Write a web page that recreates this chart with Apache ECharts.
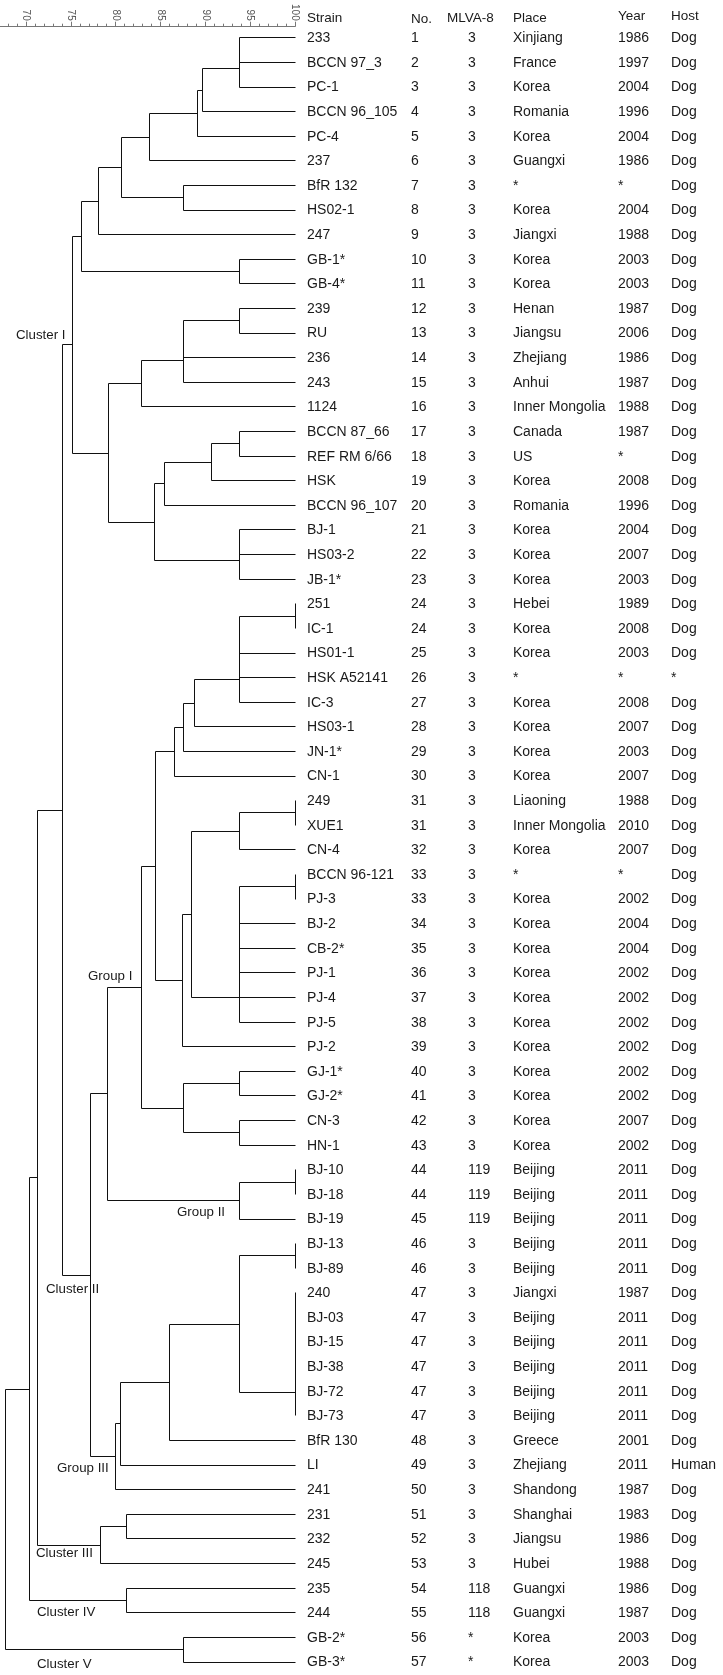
<!DOCTYPE html>
<html><head><meta charset="utf-8">
<script src="https://cdn.jsdelivr.net/npm/echarts@6/dist/echarts.min.js"></script>
<style>html,body{margin:0;padding:0;background:#fff}#c{width:723px;height:1675px}</style>
</head><body><div id="c"></div>
<script>
const strains = ['233','BCCN 97_3','PC-1','BCCN 96_105','PC-4','237','BfR 132','HS02-1','247','GB-1*','GB-4*',
  '239','RU','236','243','1124','BCCN 87_66','REF RM 6/66','HSK','BCCN 96_107','BJ-1','HS03-2','JB-1*',
  '251','IC-1','HS01-1','HSK A52141','IC-3','HS03-1','JN-1*','CN-1','249','XUE1','CN-4','BCCN 96-121','PJ-3',
  'BJ-2','CB-2*','PJ-1','PJ-4','PJ-5','PJ-2','GJ-1*','GJ-2*','CN-3','HN-1','BJ-10','BJ-18','BJ-19',
  'BJ-13','BJ-89','240','BJ-03','BJ-15','BJ-38','BJ-72','BJ-73','BfR 130','LI','241',
  '231','232','245','235','244','GB-2*','GB-3*'];
const numbers = [1,2,3,4,5,6,7,8,9,10,11,12,13,14,15,16,17,18,19,20,21,22,23,
  24,24,25,26,27,28,29,30,31,31,32,33,33,34,35,36,37,38,39,40,41,42,43,44,44,45,
  46,46,47,47,47,47,47,47,48,49,50,51,52,53,54,55,56,57];
const mlva = ['3','3','3','3','3','3','3','3','3','3','3','3','3','3','3','3','3','3','3','3','3','3','3',
  '3','3','3','3','3','3','3','3','3','3','3','3','3','3','3','3','3','3','3','3','3','3','3',
  '119','119','119','3','3','3','3','3','3','3','3','3','3','3','3','3','3','118','118','*','*'];
const places = ['Xinjiang','France','Korea','Romania','Korea','Guangxi','*','Korea','Jiangxi','Korea','Korea',
  'Henan','Jiangsu','Zhejiang','Anhui','Inner Mongolia','Canada','US','Korea','Romania','Korea','Korea','Korea',
  'Hebei','Korea','Korea','*','Korea','Korea','Korea','Korea','Liaoning','Inner Mongolia','Korea','*','Korea',
  'Korea','Korea','Korea','Korea','Korea','Korea','Korea','Korea','Korea','Korea','Beijing','Beijing','Beijing',
  'Beijing','Beijing','Jiangxi','Beijing','Beijing','Beijing','Beijing','Beijing','Greece','Zhejiang','Shandong',
  'Shanghai','Jiangsu','Hubei','Guangxi','Guangxi','Korea','Korea'];
const years = ['1986','1997','2004','1996','2004','1986','*','2004','1988','2003','2003',
  '1987','2006','1986','1987','1988','1987','*','2008','1996','2004','2007','2003',
  '1989','2008','2003','*','2008','2007','2003','2007','1988','2010','2007','*','2002',
  '2004','2004','2002','2002','2002','2002','2002','2002','2007','2002','2011','2011','2011',
  '2011','2011','1987','2011','2011','2011','2011','2011','2001','2011','1987',
  '1983','1986','1988','1986','1987','2003','2003'];
const hosts = ['Dog','Dog','Dog','Dog','Dog','Dog','Dog','Dog','Dog','Dog','Dog','Dog','Dog','Dog','Dog','Dog',
  'Dog','Dog','Dog','Dog','Dog','Dog','Dog','Dog','Dog','Dog','*','Dog','Dog','Dog','Dog','Dog','Dog','Dog',
  'Dog','Dog','Dog','Dog','Dog','Dog','Dog','Dog','Dog','Dog','Dog','Dog','Dog','Dog','Dog','Dog','Dog',
  'Dog','Dog','Dog','Dog','Dog','Dog','Dog','Human','Dog','Dog','Dog','Dog','Dog','Dog','Dog','Dog'];
const headers = ['Strain','No.','MLVA-8','Place','Year','Host'];
// merges: [id, childA, childB, similarity %]; numbers = leaf row, strings = earlier merge
const merges = [
  ['n1',1,2,93.7],['n2','n1',3,93.7],['n3','n2',4,89.6],['n4','n3',5,89.1],['n5','n4',6,83.7],
  ['n6',7,8,87.5],['n7','n5','n6',80.6],['n8','n7',9,78.0],['n9',10,11,93.7],['n10','n8','n9',76.1],
  ['n11',12,13,93.7],['n12','n11',14,87.5],['n13','n12',15,87.5],['n14','n13',16,82.8],
  ['n15',17,18,93.7],['n16','n15',19,90.6],['n17','n16',20,85.4],['n18',21,22,93.7],['n19','n18',23,93.7],
  ['n20','n17','n19',84.3],['n21','n14','n20',79.2],['clI','n10','n21',75.1],
  ['m1',24,25,100],['m2','m1',26,93.7],['m3','m2',27,93.7],['m4','m3',28,93.7],['m5','m4',29,88.7],
  ['m6','m5',30,87.5],['m7','m6',31,86.5],['m8',32,33,100],['m9','m8',34,93.7],
  ['m10',35,36,100],['m11','m10',37,93.7],['m12','m11',38,93.7],['m13','m12',39,93.7],['m14','m13',40,93.7],
  ['m15','m14',41,93.7],['m16','m9','m15',88.4],['m17','m16',42,87.4],['m18','m7','m17',84.4],
  ['m19',43,44,93.7],['m20',45,46,93.7],['m21','m19','m20',87.5],['grpI','m18','m21',82.8],
  ['g1',47,48,100],['grpII','g1',49,93.7],['m23','grpI','grpII',79.0],
  ['h1',50,51,100],['h2',52,53,100],['h3','h2',54,100],['h4','h3',55,100],['h5','h4',56,100],['h6','h5',57,100],
  ['h7','h1','h6',93.7],['h8','h7',58,86.0],['h9','h8',59,80.5],['grpIII','h9',60,79.9],
  ['clII','m23','grpIII',77.1],
  ['k1',61,62,81.1],['clIII','k1',63,78.2],['clIV',64,65,81.1],['clV',66,67,87.5],
  ['t1','clI','clII',74.0],['t2','t1','clIII',71.2],['t3','t2','clIV',70.3],['root','t3','clV',67.7]
];
const groupLabels = ['Cluster I','Group I','Group II','Cluster II','Group III','Cluster III','Cluster IV','Cluster V'];

// ---- build segments from the merge list ----
const pos = {};
function getPos(c){ return typeof c === 'number' ? {x:100, y:c} : pos[c]; }
const segments = [];
merges.forEach(([id,a,b,s]) => {
  const pa = getPos(a), pb = getPos(b);
  segments.push([s, pa.y, s, pb.y]);
  if (pa.x !== s) segments.push([s, pa.y, pa.x, pa.y]);
  if (pb.x !== s) segments.push([s, pb.y, pb.x, pb.y]);
  pos[id] = {x:s, y:(pa.y+pb.y)/2};
});

const FONT = '"Liberation Sans", Arial, sans-serif';
const TXT = '#1a1a1a';
const colX = [307, 411, 468, 513, 618, 671];
const headX = [307, 411, 447, 513, 618, 671];
const headY = [18, 19, 18.5, 18, 16.5, 16];
const labelPos = [[16,335],[88,976],[177,1212],[46,1289],[57,1468],[36,1553],[37,1612],[37,1664]];

const graphics = [];
headers.forEach((h,i)=>graphics.push({type:'text', x:headX[i], y:headY[i],
  style:{text:h, font:'13.5px '+FONT, fill:TXT, verticalAlign:'middle', align:'left'}}));
groupLabels.forEach((t,i)=>graphics.push({type:'text', x:labelPos[i][0], y:labelPos[i][1],
  style:{text:t, font:'13.3px '+FONT, fill:TXT, verticalAlign:'middle', align:'left'}}));

const chart = echarts.init(document.getElementById('c'), null, {renderer:'canvas'});
const crisp = v => Math.round(v) + 0.5;
chart.setOption({
  animation:false,
  backgroundColor:'#fff',
  grid:{left:-18.83, right:428, top:37.3, bottom:13.5, containLabel:false, outerBoundsMode:'none'},
  xAxis:{type:'value', position:'top', offset:10.6, min:65, max:100, interval:5,
    axisLine:{show:true, lineStyle:{color:'#777', width:1}},
    axisTick:{show:true, length:5, inside:false, lineStyle:{color:'#777'}},
    minorTick:{show:true, splitNumber:5, length:3, lineStyle:{color:'#777'}},
    splitLine:{show:false},
    axisLabel:{rotate:90, fontSize:10, margin:6, color:'#555', fontFamily:FONT}},
  yAxis:{type:'value', min:1, max:67, inverse:true, show:false},
  graphic:graphics,
  series:[
    {type:'custom', coordinateSystem:'cartesian2d', clip:false, silent:true,
     data:segments,
     renderItem:(params, api)=>{
       const p1 = api.coord([api.value(0), api.value(1)]);
       const p2 = api.coord([api.value(2), api.value(3)]);
       return {type:'line', shape:{x1:crisp(p1[0]), y1:crisp(p1[1]), x2:crisp(p2[0]), y2:crisp(p2[1])},
         style:{stroke:'#111', lineWidth:1}};
     }},
    {type:'custom', coordinateSystem:'cartesian2d', clip:false, silent:true,
     data:strains.map((s,i)=>[100, i+1]),
     renderItem:(params, api)=>{
       const i = params.dataIndex;
       const y = api.coord([100, api.value(1)])[1] + 1;
       const vals = [strains[i], String(numbers[i]), mlva[i], places[i], years[i], hosts[i]];
       return {type:'group', children: vals.map((v,k)=>({type:'text', x:colX[k], y:y,
         style:{text:v, font:'14px '+FONT, fill:TXT, verticalAlign:'middle', align:'left'}}))};
     }}
  ]
});
</script></body></html>
